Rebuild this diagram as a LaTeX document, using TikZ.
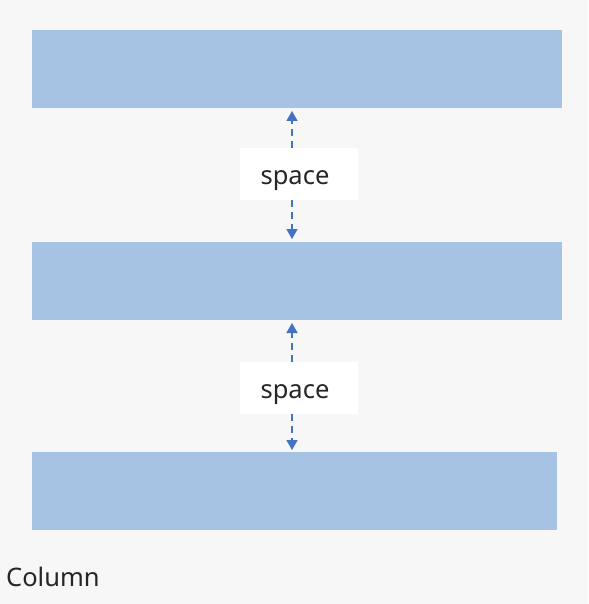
\documentclass[tikz,border=0pt]{standalone}
\usepackage{fontspec}
\setmainfont{Noto Sans}
\usetikzlibrary{arrows.meta}
\definecolor{barblue}{HTML}{A7C3E4}
\definecolor{arrowblue}{HTML}{4472C4}
\definecolor{bggray}{HTML}{F7F7F7}
\definecolor{textgray}{HTML}{262626}

\begin{document}
\begin{tikzpicture}[
  x=1pt, y=-1pt,
  bar/.style={fill=barblue, draw=none, minimum height=78pt, inner sep=0pt},
  gaplabel/.style={fill=white, draw=none, text=textgray, minimum width=118pt, minimum height=52pt, inner sep=0pt, font=\fontsize{25.5}{30}\selectfont},
  gaparrow/.style={arrowblue, dashed, dash pattern=on 7pt off 5pt, line width=1.4pt, -{Triangle[length=10pt,width=11pt]}},
  >=Stealth
]
\fill[bggray] (0,0) rectangle (588,604);
\useasboundingbox (0,0) rectangle (588,604);

% the three bars
\node[bar, minimum width=530pt] (bartop) at (297,69) {};
\node[bar, minimum width=530pt] (barmid) at (297,281) {};
\node[bar, minimum width=525pt] (barbot) at (294.5,491) {};

% spacing labels
\node[gaplabel] (spaceA) at (299,174) {\raisebox{-10pt}[0pt][0pt]{space\hspace{8pt}}};
\node[gaplabel] (spaceB) at (299,388) {\raisebox{-10pt}[0pt][0pt]{space\hspace{8pt}}};

\coordinate (aTop) at (292,111);
\coordinate (aBot) at (292,239);
\coordinate (bTop) at (292,323);
\coordinate (bBot) at (292,450);

\draw[gaparrow] (aTop |- spaceA.north) -- (aTop);
\draw[gaparrow] (aBot |- spaceA.south) -- (aBot);
\draw[gaparrow] (bTop |- spaceB.north) -- (bTop);
\draw[gaparrow] (bBot |- spaceB.south) -- (bBot);

\node[anchor=west, inner sep=0pt, text=textgray, font=\fontsize{25.5}{30}\selectfont] (title) at (6,577) {Column};
\end{tikzpicture}
\end{document}
